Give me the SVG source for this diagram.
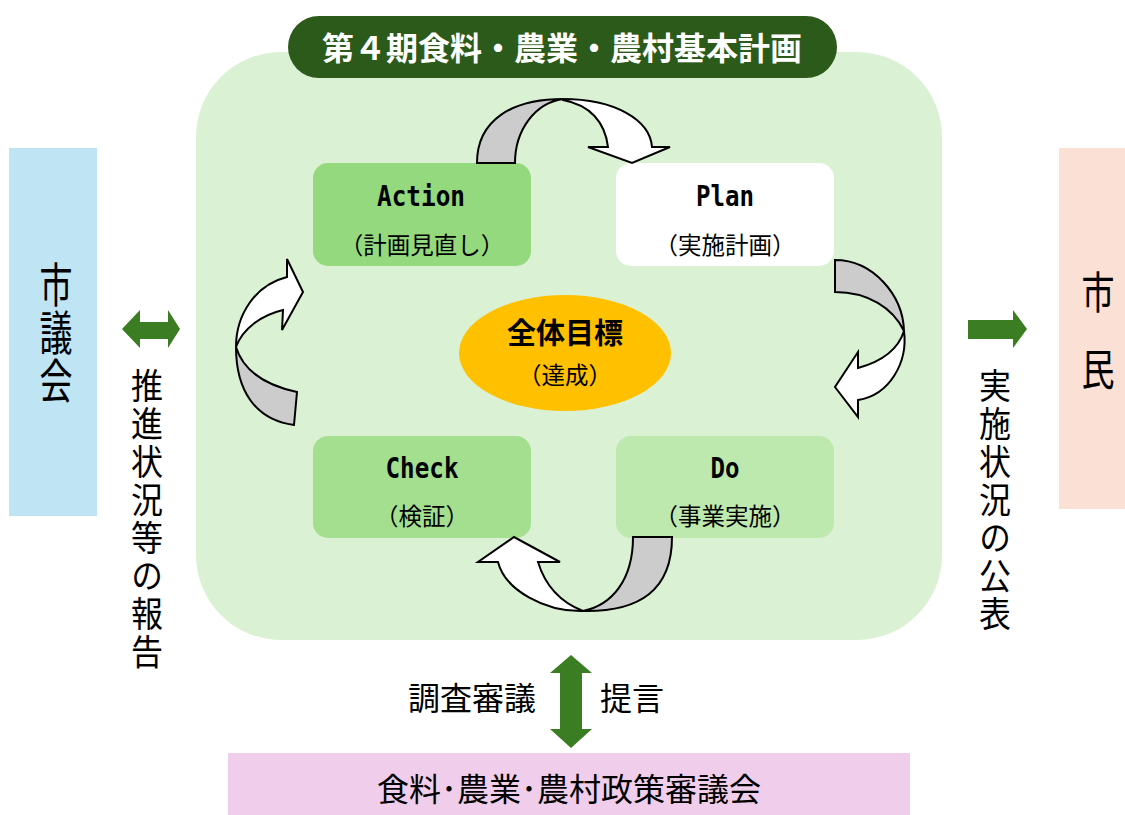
<svg xmlns="http://www.w3.org/2000/svg" width="1125" height="815" viewBox="0 0 1125 815">
<style>
.jp{font-family:"Noto Sans CJK JP","Noto Sans CJK SC",sans-serif;fill:#000}
.lat{font-family:"DejaVu Sans Mono","Liberation Mono",monospace;font-weight:bold;font-size:29px;fill:#000}
.sub{font-family:"Noto Sans CJK JP",sans-serif;font-size:23.5px;fill:#000}
.vt{font-family:"Noto Sans CJK JP","Noto Sans CJK SC",sans-serif;fill:#000;writing-mode:vertical-rl}
.cur{stroke:#000;stroke-width:2;stroke-linejoin:miter}
.g{fill:#cccccc}
.w{fill:#ffffff}
.arr{fill:#3b7d23}
</style>
<rect width="1125" height="815" fill="#ffffff"/>
<g id="frame">
<rect x="196" y="52" width="746" height="588" rx="85" ry="85" fill="#daf1d3"/>
</g>
<g id="title">
<rect x="288" y="16" width="549" height="62" rx="31" ry="31" fill="#2b5a1a"/>
<text x="562" y="60" text-anchor="middle" class="jp" style="fill:#fff;font-weight:bold;font-size:32px">第４期食料・農業・農村基本計画</text>
</g>
<g id="action">
<rect x="313" y="163" width="218" height="103" rx="15" fill="#94d97e"/>
<text x="421" y="206" text-anchor="middle" class="lat" textLength="88" lengthAdjust="spacingAndGlyphs">Action</text>
<text x="422" y="254" text-anchor="middle" class="sub">（計画見直し）</text>
</g>
<g id="plan">
<rect x="616" y="163" width="218" height="103" rx="15" fill="#ffffff"/>
<text x="725" y="206" text-anchor="middle" class="lat" textLength="58" lengthAdjust="spacingAndGlyphs">Plan</text>
<text x="725" y="254" text-anchor="middle" class="sub">（実施計画）</text>
</g>
<g id="check">
<rect x="313" y="436" width="218" height="102" rx="15" fill="#a4df8f"/>
<text x="422" y="478" text-anchor="middle" class="lat" textLength="73" lengthAdjust="spacingAndGlyphs">Check</text>
<text x="422" y="525" text-anchor="middle" class="sub">（検証）</text>
</g>
<g id="do">
<rect x="616" y="436" width="218" height="102" rx="15" fill="#bde8ae"/>
<text x="725" y="478" text-anchor="middle" class="lat" textLength="29" lengthAdjust="spacingAndGlyphs">Do</text>
<text x="725" y="525" text-anchor="middle" class="sub">（事業実施）</text>
</g>
<g id="goal">
<ellipse cx="565" cy="353" rx="106" ry="58" fill="#ffc000"/>
<text x="565" y="344" text-anchor="middle" class="jp" style="font-weight:bold;font-size:29px">全体目標</text>
<text x="565" y="384" text-anchor="middle" class="sub">（達成）</text>
</g>
<g id="council">
<rect x="9" y="148" width="88" height="368" fill="#bfe4f4"/>
<text transform="translate(56,261) scale(1,1.42)" x="0" y="0" class="vt" style="font-size:33px;letter-spacing:0.8px">市議会</text>
</g>
<g id="citizens">
<rect x="1059" y="148" width="66" height="361" fill="#fbe1d5"/>
<g class="jp" style="font-size:33px" text-anchor="middle">
<text transform="translate(1098,309) scale(1,1.35)">市</text>
<text transform="translate(1098,386) scale(1,1.35)">民</text>
</g>
</g>
<g id="shingikai">
<rect x="228" y="753" width="682" height="62" fill="#f0cdea"/>
<text x="569" y="801" text-anchor="middle" class="jp" style="font-size:32px">食料･農業･農村政策審議会</text>
</g>
<g id="connectors">
<path class="cur g" d="M477,163 C477,120 512,99 563,99 C535,103 515,130 515,163 Z"/>
<path class="cur w" d="M563,99 C615,99 650,120 652,147 L670,147 L632,163 L588,147 L608,147 C605,122 590,105 563,100 Z"/>
<path class="cur g" d="M835,260 C873,260 903,295 904,331 C893,308 868,292 835,292 Z"/>
<path class="cur w" d="M904,331 C908,362 890,395 858,400 L858,417 L835,387 L858,352 L858,368 C880,362 898,350 904,331 Z"/>
<path class="cur g" d="M672,537 L633,537 C633,580 612,605 583,611 C640,612 672,590 672,537 Z"/>
<path class="cur w" d="M583,611 C545,612 505,590 498,562 L478,562 L514,537 L560,562 L538,562 C545,585 560,602 583,611 Z"/>
<path class="cur g" d="M236,347 C236,390 255,420 294,425 L297,392 C265,385 243,370 236,347 Z"/>
<path class="cur w" d="M236,347 C236,315 255,285 287,277 L287,259 L303,292 L282,330 L283,310 C262,315 243,328 236,347 Z"/>
<path class="arr" d="M122,329 L140,310 L140,322 L168,322 L168,310 L180,329 L168,348 L168,339 L140,339 L140,348 Z"/>
<path class="arr" d="M968,320 L1013,320 L1013,310 L1027,329 L1013,348 L1013,339 L968,339 Z"/>
<path class="arr" d="M571,655 L592,673 L582,673 L582,729 L592,729 L571,748 L550,729 L560,729 L560,673 L550,673 Z"/>
</g>
<g id="labels">
<text transform="translate(147,368) scale(1,1.1)" x="0" y="0" class="vt" style="font-size:32px;letter-spacing:2.5px">推進状況等の報告</text>
<text transform="translate(995,368) scale(1,1.1)" x="0" y="0" class="vt" style="font-size:32px;letter-spacing:2.5px">実施状況の公表</text>
<g class="jp" text-anchor="middle" style="font-size:32px">
<text x="472" y="710">調査審議</text>
<text x="632" y="710">提言</text>
</g>
</g>
</svg>
